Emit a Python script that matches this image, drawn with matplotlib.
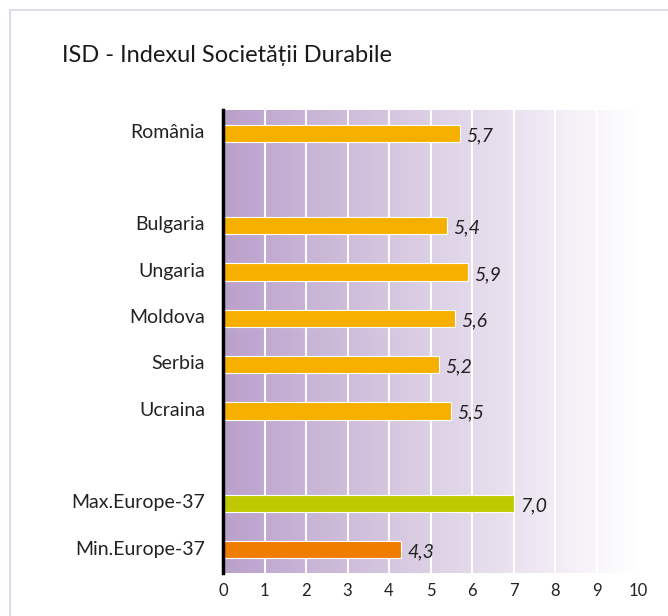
import numpy as np
import matplotlib.pyplot as plt
from matplotlib.patches import Rectangle

plt.rcParams["font.family"] = ["Lato", "DejaVu Sans"]

# ── data ──────────────────────────────────────────────────────────────────
labels = ["România", "", "Bulgaria", "Ungaria", "Moldova", "Serbia",
          "Ucraina", "", "Max.Europe-37", "Min.Europe-37"]
values = [5.7, None, 5.4, 5.9, 5.6, 5.2, 5.5, None, 7.0, 4.3]
colors = ["#F7B000", None, "#F7B000", "#F7B000", "#F7B000", "#F7B000",
          "#F7B000", None, "#BFCB00", "#EE7D00"]
ticks = list(range(0, 11))

fig = plt.figure(figsize=(6.68, 6.16), dpi=100)

# light frame round the chart
fig.patches.append(Rectangle((10 / 668, -0.05), 1.1, 1 - 10 / 616 + 0.05,
                             transform=fig.transFigure, fill=False,
                             edgecolor="#DCD3E8", linewidth=1.2))

fig.text(62 / 668, 1 - 55 / 616, "ISD - Indexul Societății Durabile",
         fontsize=17, color="#1a1a1a", va="center", ha="left")

ax = fig.add_axes([223 / 668, 1 - 573 / 616, 415 / 668, 463 / 616])

# ── gradient background: purple on the left fading to white ───────────────
left = np.array([186, 161, 203]) / 255
right = np.array([255, 255, 255]) / 255
t = np.linspace(0, 1, 256)[None, :, None]
grad = left + (right - left) * t
ax.imshow(grad, extent=[0, 10, -0.5, 9.5], aspect="auto", zorder=0,
          interpolation="bilinear")

for x in ticks[1:]:
    ax.axvline(x, color="white", linewidth=1.5, zorder=1)

pos = np.arange(len(labels))
for p, v, c in zip(pos, values, colors):
    if v is None:
        continue
    ax.barh(p, v, height=0.37, color=c, edgecolor="white",
            linewidth=0.8, zorder=2)
    ax.text(v + 0.15, p + 0.05, f"{v:.1f}".replace(".", ","), style="italic",
            fontsize=14, color="#222222", va="center", ha="left")

ax.set_xlim(0, 10)
ax.set_ylim(9.5, -0.5)
ax.set_xticks(ticks)
ax.set_xticklabels([str(x) for x in ticks], fontsize=12, color="#222222")
ax.set_yticks(pos - 0.05)
ax.set_yticklabels(labels, fontsize=14, color="#222222")
ax.tick_params(axis="y", length=0, pad=13)
ax.tick_params(axis="x", length=0, pad=7)

for s in ["top", "right", "bottom"]:
    ax.spines[s].set_visible(False)
ax.spines["left"].set_linewidth(2.5)
ax.spines["left"].set_color("black")
ax.spines["left"].set_zorder(3)

plt.savefig("out.png", dpi=100)
